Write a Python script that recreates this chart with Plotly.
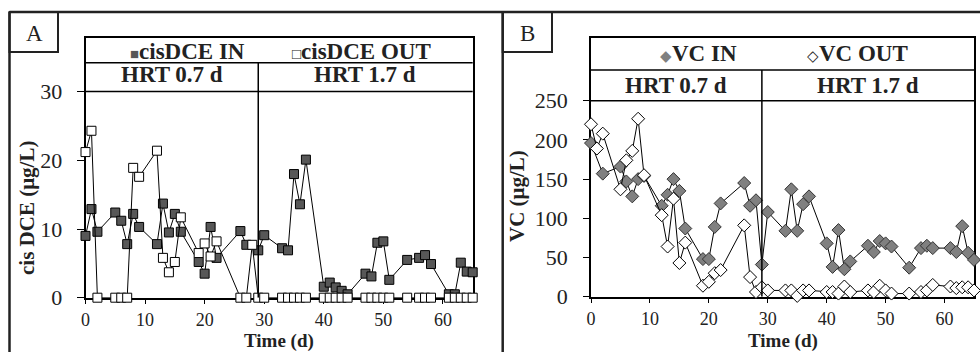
import plotly.graph_objects as go

# ---------------- data ----------------
# Panel A: cis-DCE (ug/L)
dce_in_t = [0, 1, 2, 5, 6, 7, 8, 9, 12, 13, 14, 15, 16, 19, 20, 21, 22, 26, 27, 29, 30,
            33, 34, 35, 36, 37, 40, 41, 42, 43, 44, 47, 48, 49, 50, 51, 54, 56, 57, 58,
            61, 62, 63, 64, 65]
dce_in = [9.0, 12.9, 9.6, 12.4, 11.2, 7.8, 12.2, 10.3, 7.8, 13.7, 9.5, 12.2, 9.6, 5.2, 3.5,
          10.3, 5.8, 9.7, 7.7, 6.9, 9.1, 7.2, 6.9, 18.0, 13.6, 20.1, 1.6, 2.2, 1.5, 1.0, 0.5,
          3.5, 3.1, 8.0, 8.2, 2.6, 5.5, 5.8, 6.2, 4.9, 0.5, 0.5, 5.1, 3.8, 3.7]
dce_out_t = [0, 1, 2, 5, 6, 7, 8, 9, 12, 13, 14, 15, 16, 19, 20, 21, 22, 26, 27, 28, 29, 30,
             33, 34, 35, 36, 37, 40, 41, 42, 43, 44, 47, 48, 49, 50, 51, 54, 56, 57, 58,
             61, 62, 63, 64, 65]
dce_out = [21.2, 24.3, 0, 0, 0, 0, 18.9, 17.6, 21.4, 5.8, 3.7, 5.2, 11.7, 6.5, 7.9, 6.0, 8.2,
           0, 0, 7.7, 0, 0, 0, 0, 0, 0, 0, 0, 0, 0, 0, 0, 0, 0, 0, 0, 0, 0, 0, 0, 0,
           0, 0, 0, 0, 0]

# Panel B: VC (ug/L)
vc_in_t = [0, 2, 5, 6, 7, 8, 9, 12, 13, 14, 15, 16, 19, 20, 21, 22, 26, 27, 28, 29, 30,
           33, 34, 35, 36, 37, 40, 41, 42, 43, 44, 47, 48, 49, 50, 51, 54, 56, 57, 58,
           61, 62, 63, 64, 65]
vc_in = [196, 157, 166, 147, 128, 150, 154, 116, 130, 150, 135, 87, 48, 48, 89, 119, 145,
         116, 123, 41, 108, 84, 137, 84, 118, 128, 68, 38, 85, 35, 45, 65, 57, 71, 68, 64,
         37, 62, 65, 62, 62, 57, 90, 56, 47]
vc_out_t = [0, 1, 2, 5, 6, 7, 8, 9, 12, 13, 14, 15, 16, 19, 20, 21, 22, 26, 27, 28, 29, 30,
            33, 34, 35, 36, 37, 40, 41, 42, 43, 44, 47, 48, 49, 50, 51, 54, 56, 57, 58,
            61, 62, 63, 64, 65]
vc_out = [220, 189, 208, 137, 174, 186, 227, 155, 104, 64, 125, 43, 69, 14, 19, 30, 34, 91,
          25, 6, 12, 8, 8, 8, 1, 8, 8, 6, 6, 4, 13, 6, 8, 6, 14, 8, 4, 4, 6, 8, 15,
          13, 11, 12, 12, 8]

x_ticks = [0, 10, 20, 30, 40, 50, 60]
a_yticks = [0, 10, 20, 30]
b_yticks = [0, 50, 100, 150, 200, 250]
hrt_switch = 29
hrt_labels = ["HRT 0.7 d", "HRT 1.7 d"]

# ---------------- figure ----------------
W, H = 980, 352
FONT = "Liberation Serif"


def px(x):
    return x / W


def py(y):
    return 1 - y / H


fig = go.Figure()

fig.add_trace(go.Scatter(x=dce_in_t, y=dce_in, mode="lines+markers", name="cisDCE IN",
                         line=dict(color="black", width=1),
                         marker=dict(symbol="square", size=9, color="#575757",
                                     line=dict(color="black", width=1)),
                         cliponaxis=False, showlegend=False, xaxis="x", yaxis="y"))
fig.add_trace(go.Scatter(x=dce_out_t, y=dce_out, mode="lines+markers", name="cisDCE OUT",
                         line=dict(color="black", width=1),
                         marker=dict(symbol="square", size=9, color="white",
                                     line=dict(color="black", width=1)),
                         cliponaxis=False, showlegend=False, xaxis="x", yaxis="y"))
fig.add_trace(go.Scatter(x=vc_in_t, y=vc_in, mode="lines+markers", name="VC IN",
                         line=dict(color="black", width=1),
                         marker=dict(symbol="diamond", size=10, color="#808080",
                                     line=dict(color="#333333", width=1)),
                         cliponaxis=False, showlegend=False, xaxis="x2", yaxis="y2"))
fig.add_trace(go.Scatter(x=vc_out_t, y=vc_out, mode="lines+markers", name="VC OUT",
                         line=dict(color="black", width=1),
                         marker=dict(symbol="diamond", size=10, color="white",
                                     line=dict(color="black", width=1)),
                         cliponaxis=False, showlegend=False, xaxis="x2", yaxis="y2"))

a_top = 37.85
b_top = 329.5
axis_common = dict(showline=True, linecolor="black", linewidth=1.5, mirror=True,
                   showgrid=False, zeroline=False, layer="below traces", automargin=False)
xfont = dict(family=FONT, size=18, color="#222")
yfont = dict(family=FONT, size=22, color="#222")

fig.update_layout(
    width=W, height=H, autosize=False,
    margin=dict(l=0, r=0, t=0, b=0, pad=0, autoexpand=False),
    paper_bgcolor="white", plot_bgcolor="white", showlegend=False,
    xaxis=dict(domain=[px(85.5), px(472.7)], range=[0, 65], tickvals=x_ticks,
               ticks="outside", ticklen=5, tickcolor="black", tickfont=xfont,
               ticklabelstandoff=0, anchor="y", **axis_common),
    yaxis=dict(domain=[py(297.7), py(37.7)], range=[0, a_top], tickvals=a_yticks,
               ticks="outside", ticklen=7, tickcolor="black", tickfont=yfont,
               ticklabelstandoff=10, anchor="x", **axis_common),
    xaxis2=dict(domain=[px(591), px(974)], range=[0, 65], tickvals=x_ticks,
                ticks="outside", ticklen=5, tickcolor="black", tickfont=xfont,
                ticklabelstandoff=0, anchor="y2", **axis_common),
    yaxis2=dict(domain=[py(296.7), py(38.4)], range=[0, b_top], tickvals=b_yticks,
                ticks="outside", ticklen=6, tickcolor="black", tickfont=yfont,
                ticklabelstandoff=11, anchor="x2", **axis_common),
)

shapes = []
# outer frame
frame = dict(color="#222", width=2.5)
shapes.append(dict(type="line", xref="paper", yref="paper", x0=px(9.5), x1=1.0,
                   y0=py(12), y1=py(12), line=frame))
shapes.append(dict(type="line", xref="paper", yref="paper", x0=px(9.5), x1=px(9.5),
                   y0=py(12), y1=0, line=frame))
shapes.append(dict(type="line", xref="paper", yref="paper", x0=px(502.7), x1=px(502.7),
                   y0=py(12), y1=0, line=frame))
# panel label boxes
box = dict(color="#222", width=2)
shapes.append(dict(type="rect", xref="paper", yref="paper", x0=px(9.5), x1=px(58),
                   y0=py(52), y1=py(12), line=box))
shapes.append(dict(type="rect", xref="paper", yref="paper", x0=px(502.7), x1=px(552),
                   y0=py(52), y1=py(12), line=box))

hdr = dict(color="black", width=1.5)
for xr, yr, legend_bottom, header_bottom in (("x", "y", 34.2, 30), ("x2", "y2", 289.2, 250)):
    shapes.append(dict(type="line", xref=f"{xr} domain", yref=yr, x0=0, x1=1,
                       y0=legend_bottom, y1=legend_bottom, line=hdr))
    shapes.append(dict(type="line", xref=f"{xr} domain", yref=yr, x0=0, x1=1,
                       y0=header_bottom, y1=header_bottom, line=hdr))
    shapes.append(dict(type="line", xref=xr, yref=yr, x0=hrt_switch, x1=hrt_switch,
                       y0=0, y1=legend_bottom, line=hdr))
fig.update_layout(shapes=shapes)

ann = []
C = dict(xanchor="center", yanchor="middle", showarrow=False)
tfont = dict(family=FONT, size=23, color="#222")
# panel letters
ann.append(dict(text="A", x=px(34), y=py(34), xref="paper", yref="paper",
                font=dict(family=FONT, size=23, color="#222"), **C))
ann.append(dict(text="B", x=px(527), y=py(34), xref="paper", yref="paper",
                font=dict(family=FONT, size=23, color="#222"), **C))
# legend rows
ann.append(dict(text="<span style='color:#575757;font-size:15px'>■</span><b>cisDCE IN</b>",
                x=px(187.5), y=py(51), xref="paper", yref="paper", font=tfont, **C))
ann.append(dict(text="<span style='font-size:15px'>□</span><b>cisDCE OUT</b>",
                x=px(361), y=py(51), xref="paper", yref="paper", font=tfont, **C))
ann.append(dict(text="<span style='color:#808080;font-size:15px'>◆</span><b>VC IN</b>",
                x=px(698), y=py(53), xref="paper", yref="paper", font=tfont, **C))
ann.append(dict(text="<span style='font-size:15px'>◇</span><b>VC OUT</b>",
                x=px(857), y=py(53), xref="paper", yref="paper", font=tfont, **C))
# HRT headers
for xr, yr, ymid in (("x", "y", 32.5), ("x2", "y2", 270)):
    ann.append(dict(text=f"<b>{hrt_labels[0]}</b>", x=hrt_switch / 2, y=ymid, xref=xr, yref=yr,
                    font=tfont, **C))
    ann.append(dict(text=f"<b>{hrt_labels[1]}</b>", x=(hrt_switch + 65) / 2, y=ymid, xref=xr,
                    yref=yr, font=tfont, **C))
# axis titles
afont = dict(family=FONT, size=21, color="#222")
tafont = dict(family=FONT, size=19, color="#222")
ann.append(dict(text="<b>cis DCE (μg/L)</b>", x=px(27), y=py(208), xref="paper", yref="paper",
                textangle=-90, font=afont, **C))
ann.append(dict(text="<b>VC (μg/L)</b>", x=px(516.5), y=py(196.5), xref="paper", yref="paper",
                textangle=-90, font=afont, **C))
ann.append(dict(text="<b>Time (d)</b>", x=px(279), y=py(340.5), xref="paper", yref="paper",
                font=tafont, **C))
ann.append(dict(text="<b>Time (d)</b>", x=px(782.5), y=py(340.5), xref="paper", yref="paper",
                font=tafont, **C))
fig.update_layout(annotations=ann)

# make the 980x352 figure fill the page exactly (no default body margin), no toolbar
fig.write_html("out.html", config={"displayModeBar": False},
               post_script="document.body.style.margin='0';document.body.style.padding='0';")
